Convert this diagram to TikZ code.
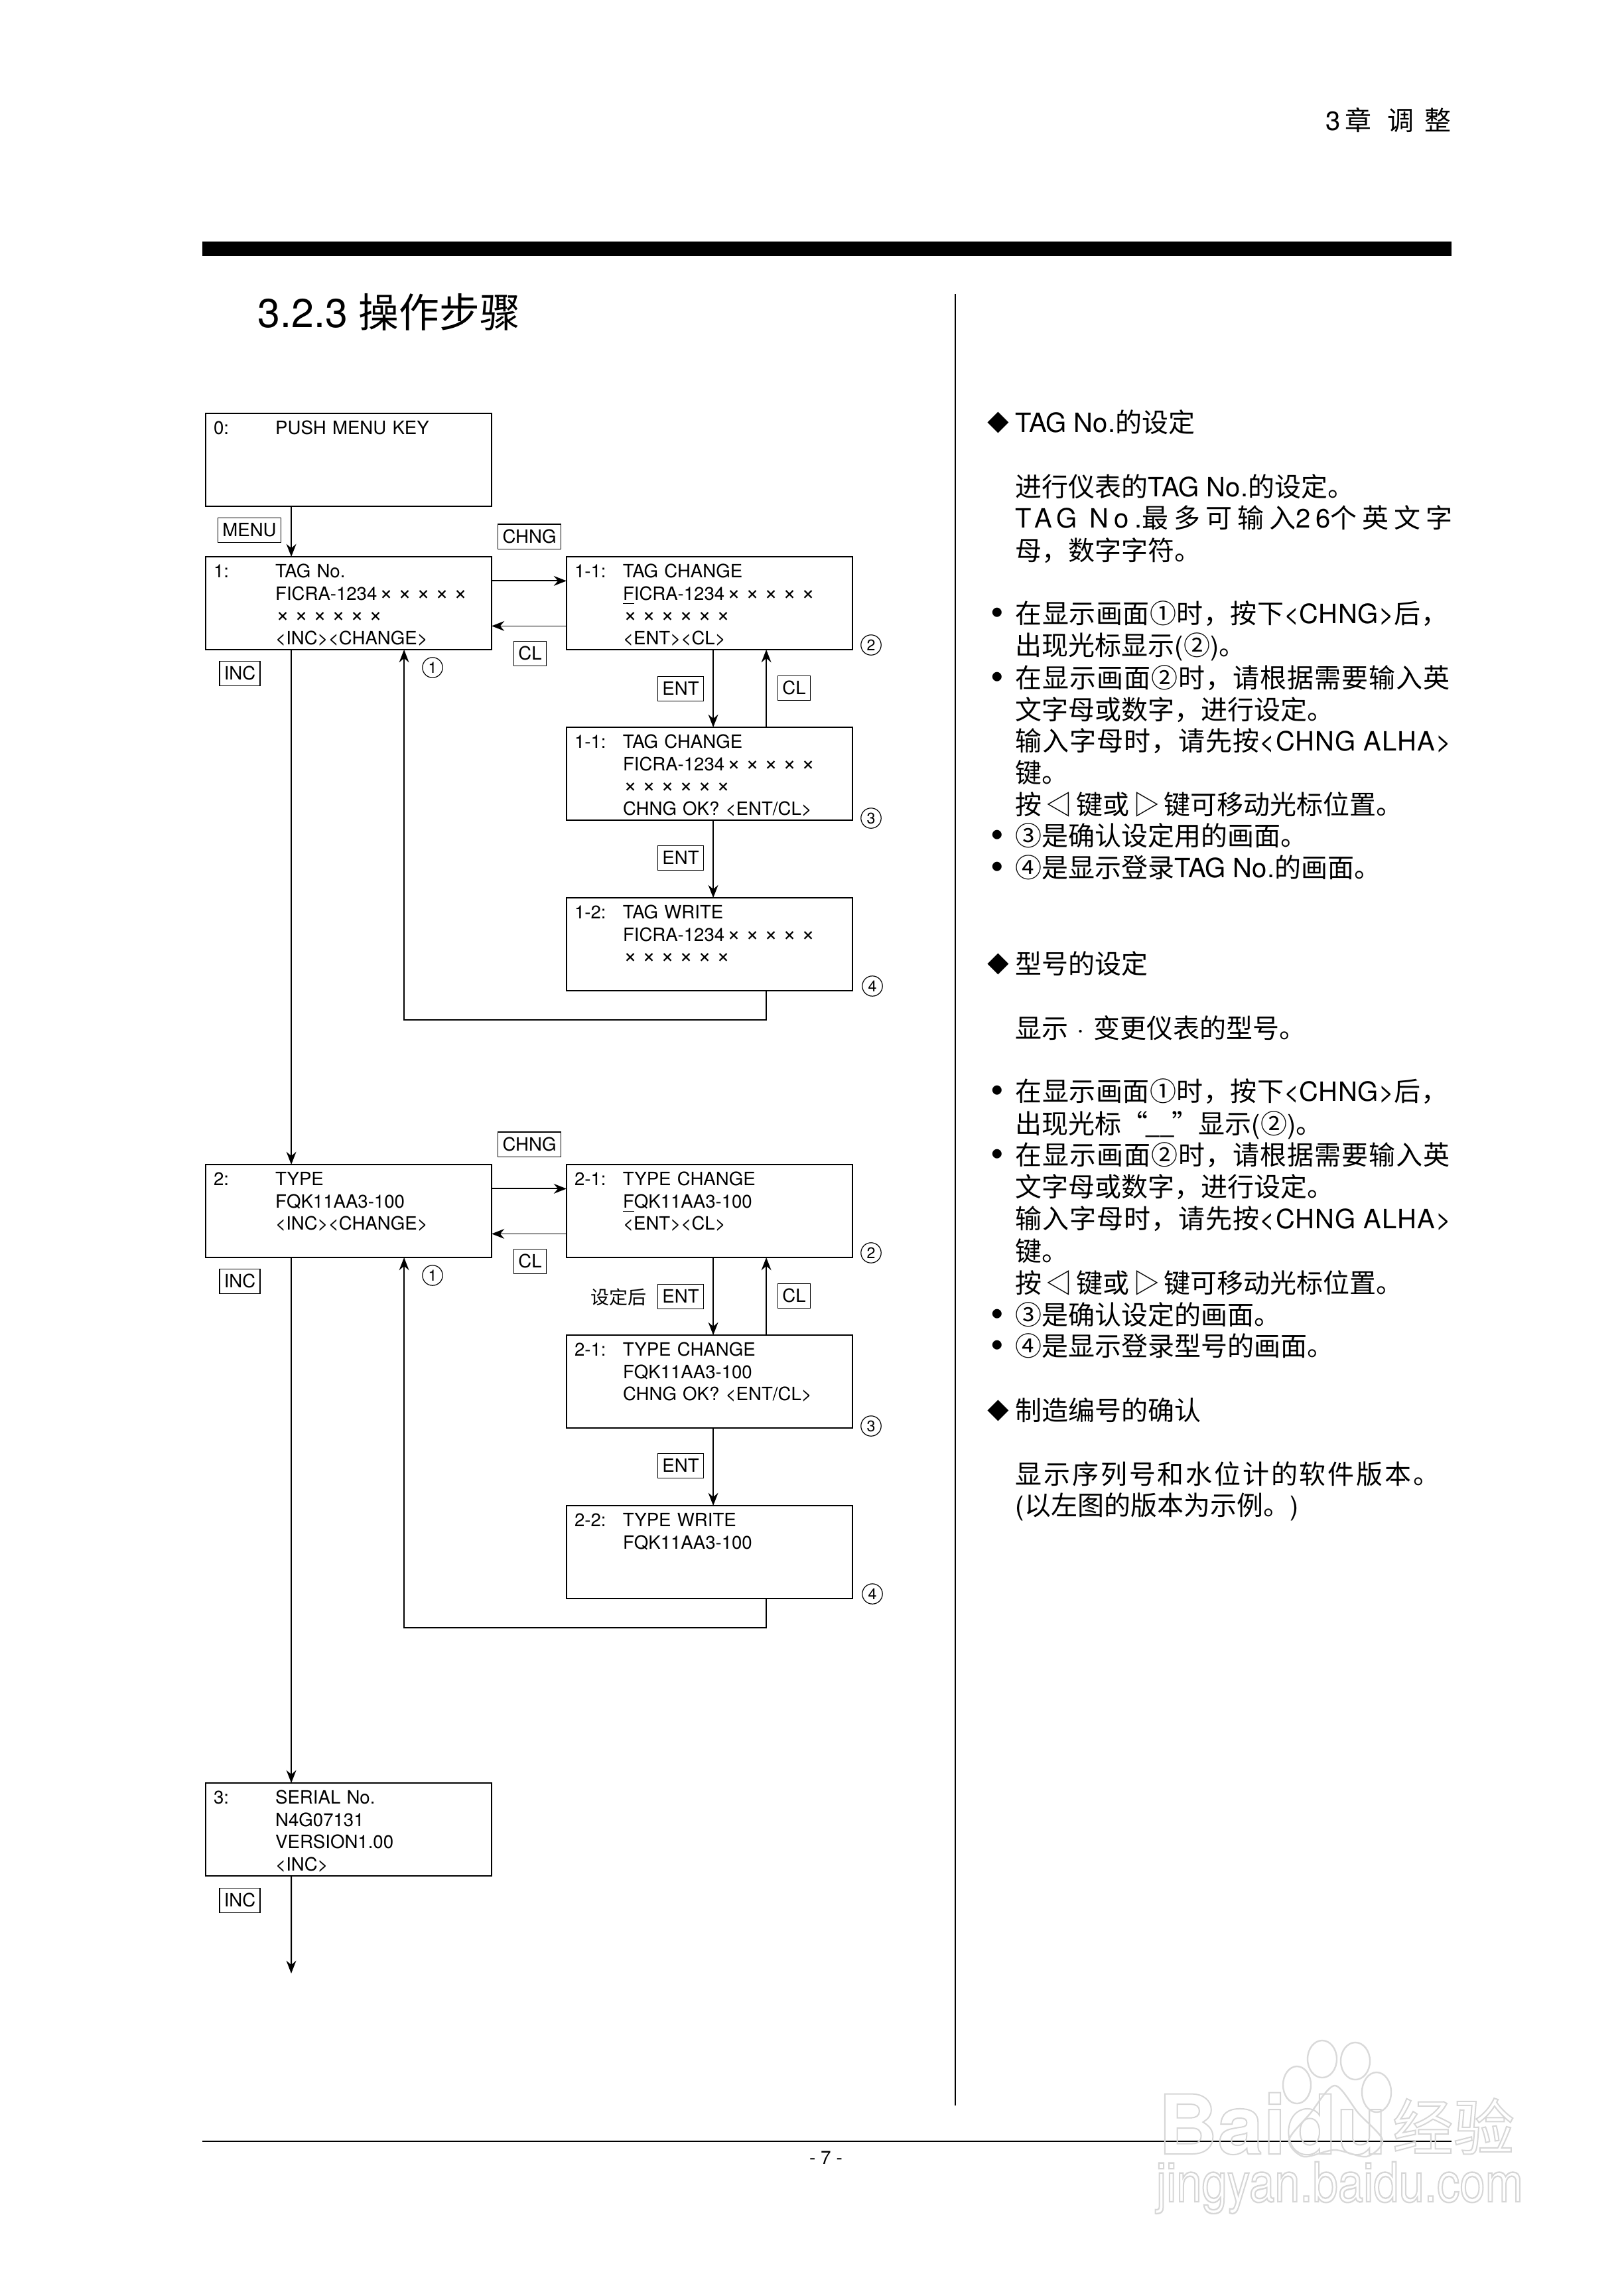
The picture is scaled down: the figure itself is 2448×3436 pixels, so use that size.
\documentclass[tikz,border=0pt]{standalone}
\usepackage{fontspec}
\setmainfont{TeX Gyre Heros}
\newfontfamily\zhfont{Noto Sans CJK SC}
\usetikzlibrary{arrows.meta}

\newcommand{\zh}[2][0]{{\zhfont\addfontfeature{LetterSpace=#1}#2}}
\newcommand{\la}[2][0]{{\addfontfeature{LetterSpace=#1}#2}}
\newcommand{\xmk}{\makebox[7pt]{\fontsize{8.6}{8}\selectfont ×}}
\newcommand{\xrow}{\hspace*{-0.6pt}\xmk\xmk\xmk\xmk\xmk\xmk}
\newcommand{\lcdmain}[2]{\makebox[23.3pt][l]{#1}\parbox[t]{78.4pt}{\raggedright #2}}
\newcommand{\lcdsub}[2]{\makebox[18.25pt][l]{#1}\parbox[t]{83.4pt}{\raggedright #2}}
\newcommand{\hollow}[1]{\special{pdf:code q 1 Tr 0.5 w 0.84 G}#1\special{pdf:code Q}}

\tikzset{
    >={Stealth[length=4.8pt,width=3.7pt]},
    lcdbox/.style={draw, line width=0.55pt, inner xsep=3pt, inner ysep=0pt, outer sep=0pt,
        text width=101.75pt, text height=7.8pt, text depth=27.2pt, anchor=north west,
        font=\fontsize{6.9}{8.45}\selectfont},
    keybox/.style={draw, line width=0.3pt, fill=white, inner xsep=1.7pt, inner ysep=0pt,
        minimum height=9.3pt, text height=4.9pt, text depth=0pt, font=\fontsize{6.9}{8}\selectfont},
    circnum/.style={circle, draw, line width=0.3pt, inner sep=0pt, minimum size=7.6pt,
        font=\fontsize{5.8}{6}\selectfont},
    flow/.style={line width=0.5pt},
    bodyline/.style={anchor=base west, inner sep=0pt, font=\fontsize{10}{12}\selectfont}
}

\begin{document}
\begin{tikzpicture}[x=0.25pt, y=-0.25pt]

        \useasboundingbox (0, 0) rectangle (2448, 3436);

        % page furniture
        \node[anchor=base east, inner sep=0pt, font=\fontsize{10}{12}\selectfont] at (2188, 196) (chapter)
            {3\hspace{1.5pt}\zh{章}\hspace{6pt}\zh{调}\hspace{4pt}\zh{整}};
        \fill (305, 364) rectangle (2188, 386);
        \node[anchor=base west, inner sep=0pt, font=\fontsize{15.2}{18}\selectfont] at (388, 493) (title)
            {3.2.3 \zh{操作步骤}};
        \draw[line width=0.6pt] (1440, 443) -- (1440, 3173);
        \draw[line width=0.4pt] (305, 3227) -- (2188, 3227);
        \node[inner sep=0pt, font=\fontsize{7}{8}\selectfont] at (1245, 3252) (pageno) {- 7 -};

        % main screens on the left
        \node[lcdbox] at (310, 623) (m0) {\lcdmain{0:}{PUSH MENU KEY}};
        \node[lcdbox] at (310, 839) (m1)
            {\lcdmain{1:}{TAG No.\\FICRA-1234\xmk\xmk\xmk\xmk\xmk\\\xrow\\<INC><CHANGE>}};
        \node[lcdbox] at (310, 1755) (m2)
            {\lcdmain{2:}{TYPE\\FQK11AA3-100\\<INC><CHANGE>}};
        \node[lcdbox] at (310, 2687) (m3)
            {\lcdmain{3:}{SERIAL No.\\N4G07131\\VERSION1.00\\<INC>}};

        % screens of the first branch
        \node[lcdbox] at (854, 839) (a1)
            {\lcdsub{1-1:}{TAG CHANGE\\\underline{F}ICRA-1234\xmk\xmk\xmk\xmk\xmk\\\xrow\\<ENT><CL>}};
        \node[lcdbox] at (854, 1096) (a2)
            {\lcdsub{1-1:}{TAG CHANGE\\FICRA-1234\xmk\xmk\xmk\xmk\xmk\\\xrow\\CHNG OK? <ENT/CL>}};
        \node[lcdbox] at (854, 1353) (a3)
            {\lcdsub{1-2:}{TAG WRITE\\FICRA-1234\xmk\xmk\xmk\xmk\xmk\\\xrow}};

        % screens of the second branch
        \node[lcdbox] at (854, 1755) (b1)
            {\lcdsub{2-1:}{TYPE CHANGE\\\underline{F}QK11AA3-100\\<ENT><CL>}};
        \node[lcdbox] at (854, 2012) (b2)
            {\lcdsub{2-1:}{TYPE CHANGE\\FQK11AA3-100\\CHNG OK? <ENT/CL>}};
        \node[lcdbox] at (854, 2269) (b3)
            {\lcdsub{2-2:}{TYPE WRITE\\FQK11AA3-100}};

        % key labels, first branch
        \node[keybox] at (376, 799) (kmenu) {MENU};
        \node[keybox] at (361.5, 1015) (kinc1) {INC};
        \node[keybox] at (798, 808.5) (kchng1) {CHNG};
        \node[keybox] at (799, 985) (kcl1) {CL};
        \node[keybox] at (1026, 1038) (kent1) {ENT};
        \node[keybox] at (1197, 1037) (kcl2) {CL};
        \node[keybox] at (1026, 1293) (kent2) {ENT};

        % key labels, second branch
        \node[keybox] at (361.5, 1931) (kinc2) {INC};
        \node[keybox] at (798, 1724.5) (kchng2) {CHNG};
        \node[keybox] at (799, 1901) (kcl3) {CL};
        \node[keybox] at (1026, 1954) (kent3) {ENT};
        \node[keybox] at (1197, 1953) (kcl4) {CL};
        \node[keybox] at (1026, 2209) (kent4) {ENT};
        \node[keybox] at (361.5, 2864) (kinc3) {INC};
        \node[anchor=east, inner sep=0pt, font=\fontsize{7}{8}\selectfont] at (975, 1955) (after) {\zh{设定后}};

        % circled numbers
        \node[circnum] at (652, 1006) (n1) {1};
        \node[circnum] at (1313, 972) (n2) {2};
        \node[circnum] at (1313, 1233) (n3) {3};
        \node[circnum] at (1315, 1486) (n4) {4};
        \node[circnum] at (652, 1922) (n5) {1};
        \node[circnum] at (1313, 1888) (n6) {2};
        \node[circnum] at (1313, 2149) (n7) {3};
        \node[circnum] at (1315, 2402) (n8) {4};

        % main column
        \coordinate (end) at (439, 2974);
        \draw[->, flow] ([xshift=-21.6pt]m0.south) -- ([xshift=-21.6pt]m1.north);
        \draw[->, flow] ([xshift=-21.6pt]m1.south) -- ([xshift=-21.6pt]m2.north);
        \draw[->, flow] ([xshift=-21.6pt]m2.south) -- ([xshift=-21.6pt]m3.north);
        \draw[->, flow] ([xshift=-21.6pt]m3.south) -- (end);

        % first branch
        \draw[->, flow] ([yshift=8.4pt]m1.east) -- ([yshift=8.4pt]a1.west);
        \draw[->, flow, line width=0.35pt] ([yshift=-8.6pt]a1.west) -- ([yshift=-8.6pt]m1.east);
        \draw[->, flow] ([xshift=1.4pt]a1.south) -- ([xshift=1.4pt]a2.north);
        \draw[->, flow] ([xshift=21.4pt]a2.north) -- ([xshift=21.4pt]a1.south);
        \draw[->, flow] ([xshift=1.4pt]a2.south) -- ([xshift=1.4pt]a3.north);
        \draw[->, flow] ([xshift=21.4pt]a3.south) -- ++(0, 44) -| ([xshift=20.9pt]m1.south);

        % second branch
        \draw[->, flow] ([yshift=8.4pt]m2.east) -- ([yshift=8.4pt]b1.west);
        \draw[->, flow, line width=0.35pt] ([yshift=-8.6pt]b1.west) -- ([yshift=-8.6pt]m2.east);
        \draw[->, flow] ([xshift=1.4pt]b1.south) -- ([xshift=1.4pt]b2.north);
        \draw[->, flow] ([xshift=21.4pt]b2.north) -- ([xshift=21.4pt]b1.south);
        \draw[->, flow] ([xshift=1.4pt]b2.south) -- ([xshift=1.4pt]b3.north);
        \draw[->, flow] ([xshift=21.4pt]b3.south) -- ++(0, 44) -| ([xshift=20.9pt]m2.south);

        % section marks and bullets on the right
        \foreach \ypos [count=\n] in {649, 1465, 2138}
            \node[anchor=base west, inner sep=0pt, font=\fontsize{8.2}{10}\selectfont] at (1488, \ypos) (mark\n) {\zh{◆}};
        \foreach \ypos [count=\n] in {939, 1036, 1274, 1322, 1659, 1755, 1996, 2043}
            \node[anchor=base, inner sep=0pt, font=\fontsize{14}{15}\selectfont] at (1503, \ypos+3) (dot\n) {•};

        % text on the right
        \foreach \ypos/\txt [count=\n] in {
            651/{TAG No.\zh{的设定}},
            748/{\zh{进行仪表的}TAG No.\zh{的设定。}},
            795/{\la[20]{TAG No.}\zh[20]{最多可输入}\la[20]{26}\zh[20]{个英文字}},
            844/{\zh{母，数字字符。}},
            939/{\zh[1.2]{在显示画面①时，按下}\la[1.2]{<CHNG>}\zh[1.2]{后，}},
            987/{\zh{出现光标显示}(\zh{②})\zh{。}},
            1036/{\zh[2.5]{在显示画面②时，请根据需要输入英}},
            1084/{\zh{文字母或数字，进行设定。}},
            1131/{\zh[2.5]{输入字母时，请先按}\la[2.5]{<CHNG ALHA>}},
            1179/{\zh{键。}},
            1227/{\zh{按\hspace{1.5pt}◁\hspace{1.5pt}键或\hspace{1.5pt}▷\hspace{1.5pt}键可移动光标位置。}},
            1274/{\zh{③是确认设定用的画面。}},
            1322/{\zh{④是显示登录}TAG No.\zh{的画面。}},
            1467/{\zh{型号的设定}},
            1564/{\zh{显示\makebox[0.93em]{\normalfont ·}变更仪表的型号。}},
            1659/{\zh[1.2]{在显示画面①时，按下}\la[1.2]{<CHNG>}\zh[1.2]{后，}},
            1708/{\zh{出现光标“\makebox[9pt]{\_\_}”显示}(\zh{②})\zh{。}},
            1755/{\zh[2.5]{在显示画面②时，请根据需要输入英}},
            1803/{\zh{文字母或数字，进行设定。}},
            1851/{\zh[2.5]{输入字母时，请先按}\la[2.5]{<CHNG ALHA>}},
            1900/{\zh{键。}},
            1948/{\zh{按\hspace{1.5pt}◁\hspace{1.5pt}键或\hspace{1.5pt}▷\hspace{1.5pt}键可移动光标位置。}},
            1996/{\zh{③是确认设定的画面。}},
            2043/{\zh{④是显示登录型号的画面。}},
            2140/{\zh{制造编号的确认}},
            2236/{\zh[7]{显示序列号和水位计的软件版本。}},
            2283/{(\zh{以左图的版本为示例。})}}
            \node[bodyline] at (1530, \ypos) (line\n) {\txt};

        % watermark
        \node[anchor=base west, inner sep=0pt, font=\fontsize{31}{32}\bfseries] at (1745, 3246) (wm1) {\hollow{Baidu}};
        \node[anchor=base west, inner sep=0pt, font=\fontsize{23}{26}\selectfont] at (2098, 3240) (wm2) {\hollow{\zh{经验}}};
        \node[anchor=base west, inner sep=0pt, font=\fontsize{17.2}{24}\selectfont, yscale=1.2, transform shape] at (1742, 3318) (wm3) {\hollow{jingyan.baidu.com}};
        \draw[black!15, line width=0.6pt] (1955, 3142) ellipse [x radius=21, y radius=28];
        \draw[black!15, line width=0.6pt] (1993, 3103) ellipse [x radius=22, y radius=28];
        \draw[black!15, line width=0.6pt] (2043, 3106) ellipse [x radius=22, y radius=28];
        \draw[black!15, line width=0.6pt] (2075, 3153) ellipse [x radius=22, y radius=30];
        \draw[black!15, line width=0.6pt] plot[smooth cycle] coordinates {(2012, 3143) (2048, 3185) (2084, 3225) (2060, 3250) (2012, 3240) (1965, 3250) (1943, 3225) (1975, 3185)};

    \end{tikzpicture}
\end{document}
